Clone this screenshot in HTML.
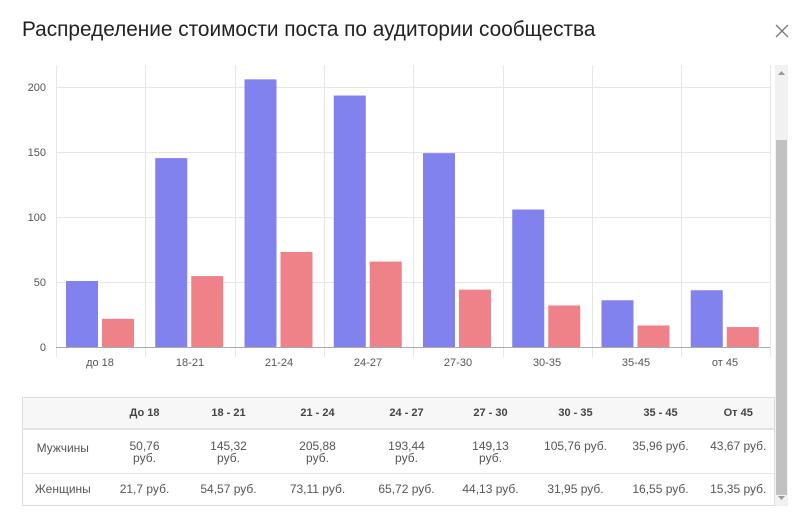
<!DOCTYPE html><html><head><meta charset="utf-8"><style>
body{margin:0;width:807px;height:526px;background:#fff;font-family:"Liberation Sans",sans-serif;position:relative;overflow:hidden}
.t{position:absolute;left:22px;top:18px;font-size:20.8px;color:#222;white-space:nowrap}
table{position:absolute;left:22px;top:397px;width:752px;border-collapse:collapse;table-layout:fixed;font-size:12px;color:#555;border:1px solid #ddd}
td,th{text-align:center;padding:0;overflow:hidden;white-space:nowrap}
th{background:#f7f7f7;height:30px;font-weight:bold;color:#444;font-size:11px;border-bottom:2px solid #e4e4e4;line-height:12px}
tr.a td{height:44px;border-bottom:1px solid #e4e4e4;line-height:12px;vertical-align:top;padding-top:10px;box-sizing:border-box}
tr.b td{height:31px;line-height:12px}
</style></head><body>
<div class="t">Распределение стоимости поста по аудитории сообщества</div>
<svg width="807" height="526" style="position:absolute;left:0;top:0">
<path d="M776 25 L788 37 M788 25 L776 37" stroke="#777" stroke-width="1.3"/>
<g stroke="#e6e6e6" stroke-width="1">
<line x1="56" x2="770" y1="87.5" y2="87.5"/><line x1="56" x2="770" y1="152.5" y2="152.5"/><line x1="56" x2="770" y1="217.5" y2="217.5"/><line x1="56" x2="770" y1="282.5" y2="282.5"/>
<line x1="56.5" x2="56.5" y1="65" y2="357"/><line x1="145.5" x2="145.5" y1="65" y2="357"/><line x1="235.5" x2="235.5" y1="65" y2="357"/><line x1="324.5" x2="324.5" y1="65" y2="357"/><line x1="413.5" x2="413.5" y1="65" y2="357"/><line x1="503.5" x2="503.5" y1="65" y2="357"/><line x1="592.5" x2="592.5" y1="65" y2="357"/><line x1="681.5" x2="681.5" y1="65" y2="357"/><line x1="770.5" x2="770.5" y1="65" y2="357"/>
</g>
<g font-size="11" fill="#555" text-anchor="end"><text x="46" y="91">200</text><text x="46" y="156">150</text><text x="46" y="221">100</text><text x="46" y="286">50</text><text x="46" y="351">0</text></g>
<g id="b"></g>
<line x1="56" x2="770" y1="347.5" y2="347.5" stroke="#aaa"/>
<g font-size="11" fill="#555" text-anchor="middle"><text x="100" y="366">до 18</text><text x="190" y="366">18-21</text><text x="279" y="366">21-24</text><text x="368" y="366">24-27</text><text x="458" y="366">27-30</text><text x="547" y="366">30-35</text><text x="636" y="366">35-45</text><text x="725" y="366">от 45</text></g>
<rect x="775" y="65" width="13" height="441" fill="#f1f1f1"/><rect x="776" y="140" width="11" height="355" fill="#c1c1c1"/>
<path d="M778 75 L785 75 L781.5 71Z M778 496 L785 496 L781.5 500Z" fill="#999"/>
</svg>
<script>
var m=[50.76,145.32,205.88,193.44,149.13,105.76,35.96,43.67],w=[21.7,54.57,73.11,65.72,44.13,31.95,16.55,15.35],s="";
for(var i=0;i<8;i++){var l=56+i*89.25;s+='<rect x="'+(l+10)+'" y="'+(347-m[i]*1.3)+'" width="32" height="'+m[i]*1.3+'" fill="#8282ef"/>';s+='<rect x="'+(l+46)+'" y="'+(347-w[i]*1.3)+'" width="32" height="'+w[i]*1.3+'" fill="#ef8289"/>';}
document.getElementById('b').innerHTML=s;
</script>
<table><colgroup><col style="width:80px"><col style="width:84px"><col style="width:84px"><col style="width:94px"><col style="width:84px"><col style="width:84px"><col style="width:86px"><col style="width:84px"><col style="width:72px"></colgroup>
<tr><th></th><th>До 18</th><th>18 - 21</th><th>21 - 24</th><th>24 - 27</th><th>27 - 30</th><th>30 - 35</th><th>35 - 45</th><th>От 45</th></tr>
<tr class="a"><td style="padding-top:12px">Мужчины</td><td>50,76<br>руб.</td><td>145,32<br>руб.</td><td>205,88<br>руб.</td><td>193,44<br>руб.</td><td>149,13<br>руб.</td><td>105,76 руб.</td><td>35,96 руб.</td><td>43,67 руб.</td></tr>
<tr class="b"><td>Женщины</td><td>21,7 руб.</td><td>54,57 руб.</td><td>73,11 руб.</td><td>65,72 руб.</td><td>44,13 руб.</td><td>31,95 руб.</td><td>16,55 руб.</td><td>15,35 руб.</td></tr></table>
</body></html>
